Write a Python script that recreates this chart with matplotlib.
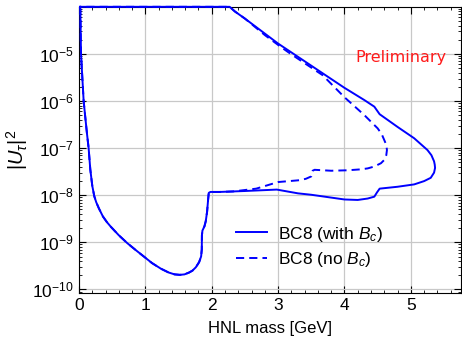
import numpy as np
import matplotlib
matplotlib.use("Agg")
import matplotlib.pyplot as plt
from matplotlib.ticker import LogLocator, MultipleLocator, NullFormatter

# --- datos (log10 |U_tau|^2) ---
# rama izquierda e inferior, comun a ambos contornos
masa_comun = [0.015, 0.02, 0.025, 0.03, 0.05, 0.07, 0.095, 0.12, 0.145, 0.17, 0.20, 0.23,
              0.26, 0.30, 0.36, 0.42, 0.48, 0.60, 0.73, 0.86, 0.985, 1.10, 1.235, 1.35,
              1.44, 1.52, 1.59, 1.66, 1.71, 1.76, 1.81, 1.84, 1.85, 1.852, 1.86, 1.89,
              1.91, 1.93, 1.945, 1.955, 1.98, 2.04, 2.12]
log_u2_comun = [-4.0, -4.06, -4.5, -5.0, -5.5, -6.0, -6.35, -6.69, -7.0, -7.45, -7.8, -8.02,
                -8.15, -8.28, -8.45, -8.57, -8.67, -8.85, -9.02, -9.17, -9.31, -9.44, -9.56, -9.64,
                -9.68, -9.69, -9.68, -9.64, -9.60, -9.53, -9.42, -9.30, -9.15, -8.85, -8.75, -8.66,
                -8.55, -8.35, -8.10, -7.95, -7.93, -7.93, -7.93]

# resto del contorno BC8 con Bc
masa_con_bc = [2.5, 2.98, 3.3, 3.5, 4.0, 4.2, 4.35, 4.45, 4.49, 4.53, 4.80, 5.05, 5.20,
               5.30, 5.35, 5.365, 5.36, 5.35, 5.31, 5.25, 5.05, 4.80, 4.53, 4.50, 4.45,
               4.3, 4.0, 3.5, 3.0, 2.5, 2.35, 2.27, 2.0, 1.0, 0.015]
log_u2_con_bc = [-7.91, -7.88, -7.96, -7.99, -8.09, -8.10, -8.07, -8.03, -7.94, -7.86,
                 -7.82, -7.77, -7.70, -7.63, -7.52, -7.42, -7.35, -7.28, -7.15, -7.04, -6.79,
                 -6.55, -6.28, -6.22, -6.12, -5.98, -5.72, -5.25, -4.78, -4.25, -4.1, -4.0,
                 -4.0, -4.0, -4.0]

# resto del contorno BC8 sin Bc
masa_sin_bc = [2.32, 2.67, 3.0, 3.33, 3.42, 3.50, 3.52, 3.55, 3.80, 4.05, 4.25, 4.35, 4.45,
               4.55, 4.60, 4.63, 4.64, 4.63, 4.60, 4.56, 4.50, 4.30, 4.0, 3.67, 3.18,
               3.03, 2.8, 2.5, 2.35, 2.27, 2.0, 1.0, 0.015]
log_u2_sin_bc = [-7.92, -7.86, -7.72, -7.68, -7.65, -7.60, -7.48, -7.46, -7.48, -7.47, -7.45,
                 -7.43, -7.39, -7.32, -7.25, -7.15, -7.04, -6.93, -6.83, -6.70, -6.58, -6.30,
                 -5.92, -5.45, -4.99, -4.84, -4.60, -4.25, -4.1, -4.0, -4.0, -4.0, -4.0]

etiquetas = [r"BC8 (with $B_c$)", r"BC8 (no $B_c$)"]

plt.rcParams["font.family"] = ["Liberation Sans", "DejaVu Sans"]
plt.rcParams["mathtext.fontset"] = "custom"
plt.rcParams["mathtext.rm"] = "Liberation Sans"
plt.rcParams["mathtext.it"] = "Liberation Sans:italic"

fig = plt.figure(figsize=(4.62, 3.41), dpi=100)
ax = fig.add_axes([0.171, 0.140, 0.826, 0.840])

azul = "#0000ff"
x_con = masa_comun + masa_con_bc
y_con = 10.0 ** np.array(log_u2_comun + log_u2_con_bc)
x_sin = masa_comun + masa_sin_bc
y_sin = 10.0 ** np.array(log_u2_comun + log_u2_sin_bc)

ax.plot(x_con, y_con, color=azul, lw=1.4, label=etiquetas[0],
        clip_on=False, zorder=3, solid_joinstyle="round")
ax.plot(x_sin, y_sin, color=azul, lw=1.4, dashes=(4.2, 2.6), label=etiquetas[1],
        clip_on=False, zorder=3)

ax.set_yscale("log")
ax.set_xlim(0, 5.75)
ax.set_ylim(8.3e-11, 1e-4)
ax.set_yticks([1e-10, 1e-9, 1e-8, 1e-7, 1e-6, 1e-5])
ax.yaxis.set_minor_locator(LogLocator(base=10, subs=np.arange(2, 10), numticks=20))
ax.yaxis.set_minor_formatter(NullFormatter())
ax.xaxis.set_major_locator(MultipleLocator(1))
ax.xaxis.set_minor_locator(MultipleLocator(0.2))

ax.tick_params(which="both", direction="in", top=True, right=True, labelsize=12.5)
ax.tick_params(which="major", length=5, width=0.8)
ax.tick_params(which="minor", length=2.5, width=0.6)
ax.grid(True, which="major", color="#c8c8c8", lw=0.9)
ax.set_axisbelow(True)

ax.set_xlabel("HNL mass [GeV]", fontsize=12, labelpad=6)
ax.set_ylabel(r"$|U_\tau|^2$", fontsize=14.5, labelpad=2)

ax.text(0.843, 0.824, "Preliminary", color="#ff1a1a", fontsize=11.5,
        family="DejaVu Sans", transform=ax.transAxes, ha="center", va="center")

ax.legend(loc="center left", bbox_to_anchor=(0.388, 0.163), frameon=False,
          borderpad=0, fontsize=12.5, handlelength=1.8, handletextpad=0.65,
          labelspacing=0.35)

plt.savefig("out.png", dpi=100)
plt.close()
